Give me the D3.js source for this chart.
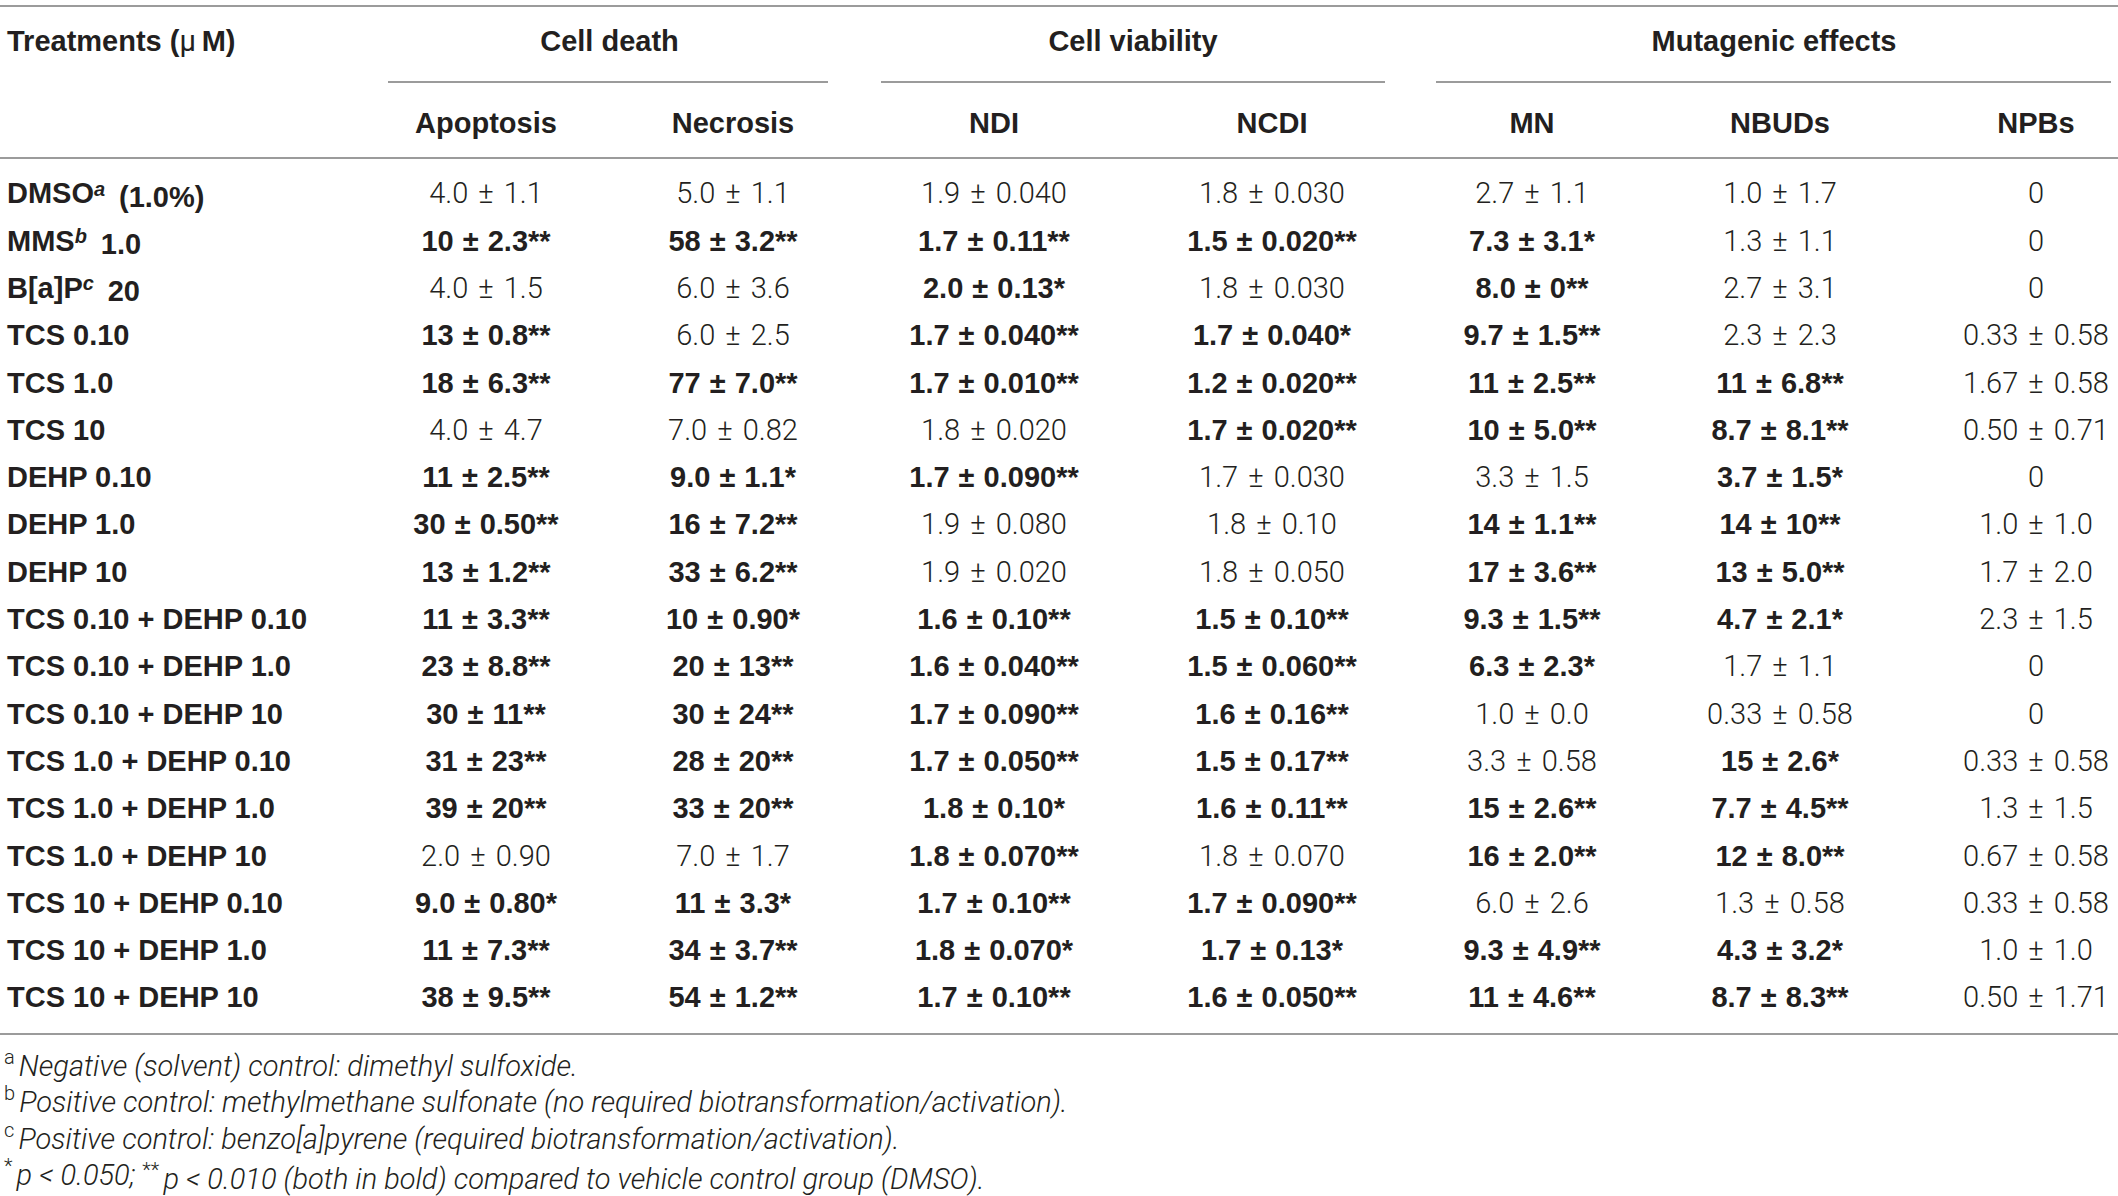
<!DOCTYPE html>
<html>
<head>
<meta charset="utf-8">
<script src="https://cdn.jsdelivr.net/npm/d3@7"></script>
<style>
  body { margin: 0; background: #fff; }
  svg text { fill: #231f20; }
</style>
</head>
<body>
<svg id="drawing_region"></svg>
<script>
// ---- data ----
const treatments = [
  "DMSO^a (1.0%)", "MMS^b 1.0", "B[a]P^c 20", "TCS 0.10", "TCS 1.0", "TCS 10",
  "DEHP 0.10", "DEHP 1.0", "DEHP 10", "TCS 0.10 + DEHP 0.10", "TCS 0.10 + DEHP 1.0",
  "TCS 0.10 + DEHP 10", "TCS 1.0 + DEHP 0.10", "TCS 1.0 + DEHP 1.0", "TCS 1.0 + DEHP 10",
  "TCS 10 + DEHP 0.10", "TCS 10 + DEHP 1.0", "TCS 10 + DEHP 10"
];

const apoptosis = ["4.0 ± 1.1", "10 ± 2.3**", "4.0 ± 1.5", "13 ± 0.8**", "18 ± 6.3**", "4.0 ± 4.7",
  "11 ± 2.5**", "30 ± 0.50**", "13 ± 1.2**", "11 ± 3.3**", "23 ± 8.8**", "30 ± 11**",
  "31 ± 23**", "39 ± 20**", "2.0 ± 0.90", "9.0 ± 0.80*", "11 ± 7.3**", "38 ± 9.5**"];
const necrosis = ["5.0 ± 1.1", "58 ± 3.2**", "6.0 ± 3.6", "6.0 ± 2.5", "77 ± 7.0**", "7.0 ± 0.82",
  "9.0 ± 1.1*", "16 ± 7.2**", "33 ± 6.2**", "10 ± 0.90*", "20 ± 13**", "30 ± 24**",
  "28 ± 20**", "33 ± 20**", "7.0 ± 1.7", "11 ± 3.3*", "34 ± 3.7**", "54 ± 1.2**"];
const ndi = ["1.9 ± 0.040", "1.7 ± 0.11**", "2.0 ± 0.13*", "1.7 ± 0.040**", "1.7 ± 0.010**", "1.8 ± 0.020",
  "1.7 ± 0.090**", "1.9 ± 0.080", "1.9 ± 0.020", "1.6 ± 0.10**", "1.6 ± 0.040**", "1.7 ± 0.090**",
  "1.7 ± 0.050**", "1.8 ± 0.10*", "1.8 ± 0.070**", "1.7 ± 0.10**", "1.8 ± 0.070*", "1.7 ± 0.10**"];
const ncdi = ["1.8 ± 0.030", "1.5 ± 0.020**", "1.8 ± 0.030", "1.7 ± 0.040*", "1.2 ± 0.020**", "1.7 ± 0.020**",
  "1.7 ± 0.030", "1.8 ± 0.10", "1.8 ± 0.050", "1.5 ± 0.10**", "1.5 ± 0.060**", "1.6 ± 0.16**",
  "1.5 ± 0.17**", "1.6 ± 0.11**", "1.8 ± 0.070", "1.7 ± 0.090**", "1.7 ± 0.13*", "1.6 ± 0.050**"];
const mn = ["2.7 ± 1.1", "7.3 ± 3.1*", "8.0 ± 0**", "9.7 ± 1.5**", "11 ± 2.5**", "10 ± 5.0**",
  "3.3 ± 1.5", "14 ± 1.1**", "17 ± 3.6**", "9.3 ± 1.5**", "6.3 ± 2.3*", "1.0 ± 0.0",
  "3.3 ± 0.58", "15 ± 2.6**", "16 ± 2.0**", "6.0 ± 2.6", "9.3 ± 4.9**", "11 ± 4.6**"];
const nbuds = ["1.0 ± 1.7", "1.3 ± 1.1", "2.7 ± 3.1", "2.3 ± 2.3", "11 ± 6.8**", "8.7 ± 8.1**",
  "3.7 ± 1.5*", "14 ± 10**", "13 ± 5.0**", "4.7 ± 2.1*", "1.7 ± 1.1", "0.33 ± 0.58",
  "15 ± 2.6*", "7.7 ± 4.5**", "12 ± 8.0**", "1.3 ± 0.58", "4.3 ± 3.2*", "8.7 ± 8.3**"];
const npbs = ["0", "0", "0", "0.33 ± 0.58", "1.67 ± 0.58", "0.50 ± 0.71",
  "0", "1.0 ± 1.0", "1.7 ± 2.0", "2.3 ± 1.5", "0", "0",
  "0.33 ± 0.58", "1.3 ± 1.5", "0.67 ± 0.58", "0.33 ± 0.58", "1.0 ± 1.0", "0.50 ± 1.71"];

const columns = ["Apoptosis", "Necrosis", "NDI", "NCDI", "MN", "NBUDs", "NPBs"];
const columnValues = [apoptosis, necrosis, ndi, ncdi, mn, nbuds, npbs];
const groups = ["Cell death", "Cell viability", "Mutagenic effects"];
const groupColumns = [["Apoptosis", "Necrosis"], ["NDI", "NCDI"], ["MN", "NBUDs", "NPBs"]];

const footnotes = [
  [["a", true], ["Negative (solvent) control: dimethyl sulfoxide.", false]],
  [["b", true], ["Positive control: methylmethane sulfonate (no required biotransformation/activation).", false]],
  [["c", true], ["Positive control: benzo[a]pyrene (required biotransformation/activation).", false]],
  [["*", true], ["p < 0.050; ", false], ["**", true], ["p < 0.010 (both in bold) compared to vehicle control group (DMSO).", false]]
];

// ---- layout ----
const config = {
  parent: '#drawing_region',
  width: 2118,
  height: 1196,
  boldFont: '"Liberation Sans", Arial, sans-serif',
  lightFont: 'Roboto, "Liberation Sans", sans-serif',
  size: 29,
};

const svg = d3.select(config.parent)
  .attr('width', config.width)
  .attr('height', config.height);

const xscale = d3.scaleOrdinal()
  .domain(columns)
  .range([486, 733, 994, 1272, 1532, 1780, 2036]);

const yscale = d3.scalePoint()
  .domain(d3.range(treatments.length))
  .range([193, 997]);

const groupLines = [[388, 828], [881, 1385], [1436, 2111]];

const lineColor = '#9b9b9b';

function boldText(sel) {
  return sel.attr('font-family', config.boldFont)
    .attr('font-size', config.size)
    .attr('font-weight', 'bold');
}

// horizontal rules
[6, 158, 1034].forEach(y => {
  svg.append('line')
    .attr('x1', 0).attr('x2', config.width)
    .attr('y1', y).attr('y2', y)
    .attr('stroke', lineColor).attr('stroke-width', 2);
});

// header row 1
const th = svg.append('text')
  .attr('x', 7).attr('y', 41).attr('dy', '0.36em')
  .call(boldText);
th.append('tspan').text('Treatments (');
th.append('tspan').attr('font-family', config.lightFont).attr('font-weight', 400).text('\u03bc');
th.append('tspan').text('\u2009M)');

groups.forEach((g, i) => {
  const cols = groupColumns[i];
  const center = i === 2 ? xscale(cols[1]) - 6 : (xscale(cols[0]) + xscale(cols[cols.length - 1])) / 2;
  svg.append('text')
    .attr('x', center).attr('y', 41).attr('dy', '0.36em')
    .attr('text-anchor', 'middle')
    .call(boldText)
    .text(g);
  svg.append('line')
    .attr('x1', groupLines[i][0]).attr('x2', groupLines[i][1])
    .attr('y1', 82).attr('y2', 82)
    .attr('stroke', lineColor).attr('stroke-width', 2);
});

// header row 2
svg.selectAll('text.colhead')
  .data(columns)
  .enter()
  .append('text')
  .attr('class', 'colhead')
  .attr('x', d => xscale(d))
  .attr('y', 123).attr('dy', '0.36em')
  .attr('text-anchor', 'middle')
  .call(boldText)
  .text(d => d);

// treatment labels
const labels = svg.selectAll('text.treat')
  .data(treatments)
  .enter()
  .append('text')
  .attr('class', 'treat')
  .attr('x', 7)
  .attr('y', (d, i) => yscale(i)).attr('dy', '0.36em')
  .call(boldText);

labels.each(function (d) {
  const el = d3.select(this);
  const m = d.match(/^(.*)\^(\w)(.*)$/);
  if (!m) { el.text(d); return; }
  el.append('tspan').text(m[1]);
  el.append('tspan').attr('dy', '-0.38em').attr('font-size', 20)
    .attr('font-style', 'italic').text(m[2]);
  el.append('tspan').attr('dy', '0.38em').text('\u2009' + m[3]);
});

// cells
columns.forEach((c, ci) => {
  svg.selectAll(`text.cell${ci}`)
    .data(columnValues[ci])
    .enter()
    .append('text')
    .attr('class', `cell${ci}`)
    .attr('x', xscale(c))
    .attr('y', (d, i) => yscale(i)).attr('dy', '0.36em')
    .attr('text-anchor', 'middle')
    .attr('font-size', config.size)
    .attr('font-family', d => d.includes('*') ? config.boldFont : config.lightFont)
    .attr('font-weight', d => d.includes('*') ? 'bold' : 300)
    .attr('word-spacing', d => d.includes('*') ? 1 : 3)
    .text(d => d);
});

// footnotes
footnotes.forEach((parts, i) => {
  const t = svg.append('text')
    .attr('x', 4)
    .attr('y', 1072 + i * 36.5)
    .attr('font-family', config.lightFont)
    .attr('font-weight', 300)
    .attr('font-size', 29)
    .attr('font-style', 'italic');
  parts.forEach(([s, sup]) => {
    if (sup) {
      t.append('tspan').attr('dy', '-0.42em').attr('font-size', 20)
        .attr('font-style', 'normal').text(s + '\u2009');
    } else {
      t.append('tspan').attr('dy', '0.42em').text(s);
    }
  });
});
</script>
</body>
</html>
